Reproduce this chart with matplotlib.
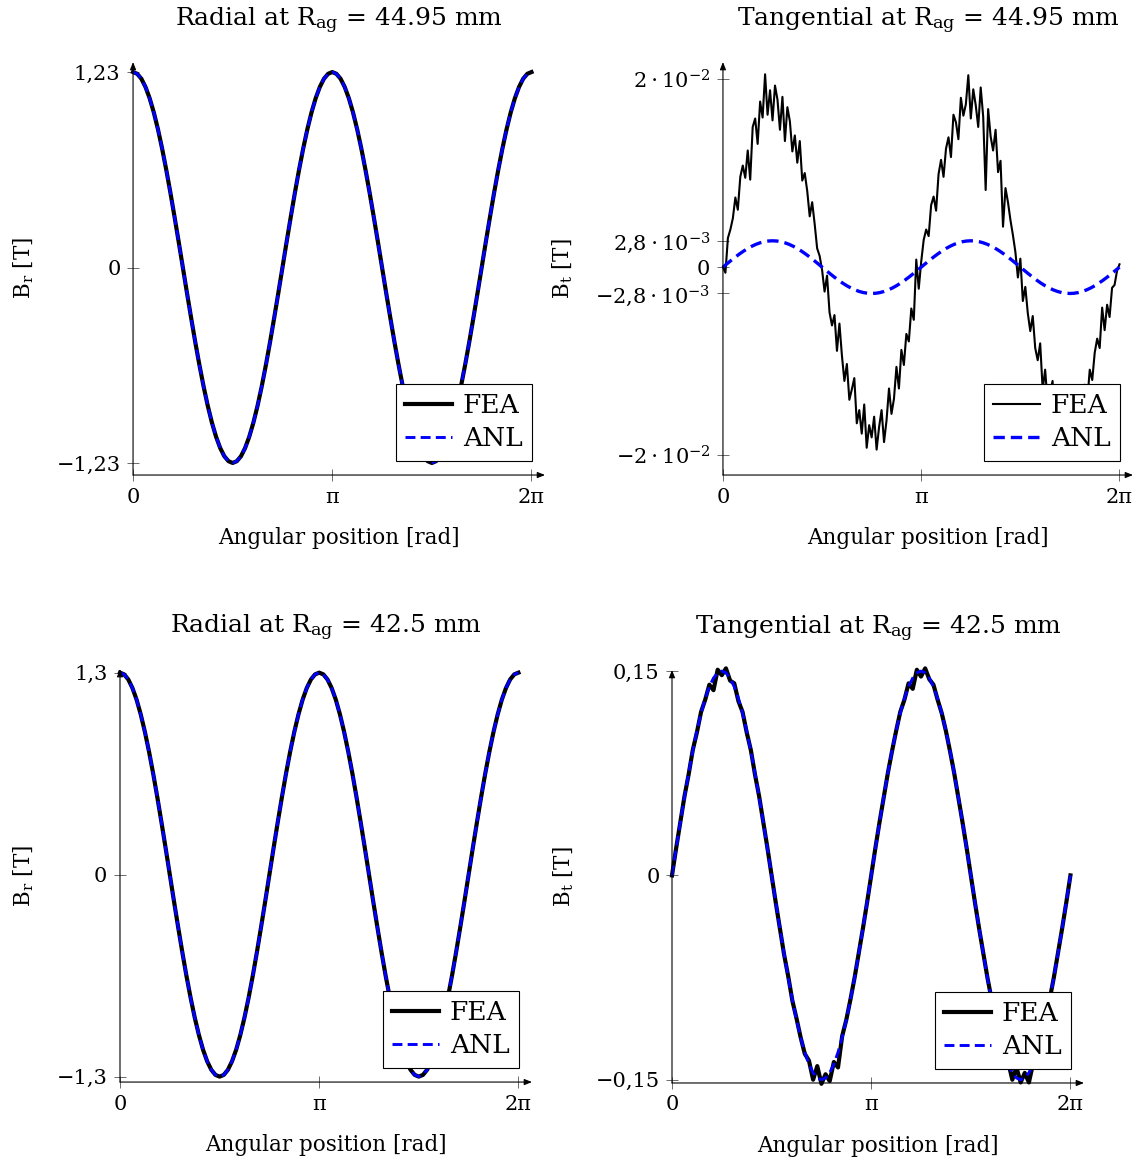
import numpy as np
import matplotlib
matplotlib.use('Agg')
import matplotlib.pyplot as plt

plt.rcParams['font.family'] = 'DejaVu Serif'
plt.rcParams['mathtext.fontset'] = 'dejavuserif'

# sample grids along the angular position
theta = np.linspace(0, 2 * np.pi, 97)
theta_fea = np.linspace(0, 2 * np.pi, 161)

# radial at R_ag = 44.95 mm [T] (FEA and ANL coincide)
br_outer = [1.230, 1.219, 1.188, 1.136, 1.065, 0.976, 0.870, 0.749, 0.615, 0.471, 0.318, 0.161, 0.0,
            -0.161, -0.318, -0.471, -0.615, -0.749, -0.870, -0.976, -1.065, -1.136, -1.188, -1.219, -1.230,
            -1.219, -1.188, -1.136, -1.065, -0.976, -0.870, -0.749, -0.615, -0.471, -0.318, -0.161, 0.0,
            0.161, 0.318, 0.471, 0.615, 0.749, 0.870, 0.976, 1.065, 1.136, 1.188, 1.219, 1.230,
            1.219, 1.188, 1.136, 1.065, 0.976, 0.870, 0.749, 0.615, 0.471, 0.318, 0.161, 0.0,
            -0.161, -0.318, -0.471, -0.615, -0.749, -0.870, -0.976, -1.065, -1.136, -1.188, -1.219, -1.230,
            -1.219, -1.188, -1.136, -1.065, -0.976, -0.870, -0.749, -0.615, -0.471, -0.318, -0.161, 0.0,
            0.161, 0.318, 0.471, 0.615, 0.749, 0.870, 0.976, 1.065, 1.136, 1.188, 1.219, 1.230]

# tangential at R_ag = 44.95 mm [mT]
bt_outer_anl = [0.0, 0.365, 0.725, 1.072, 1.400, 1.705, 1.980, 2.222, 2.425, 2.587, 2.705, 2.776, 2.800,
                2.776, 2.705, 2.587, 2.425, 2.222, 1.980, 1.705, 1.400, 1.072, 0.725, 0.365, 0.0,
                -0.365, -0.725, -1.072, -1.400, -1.705, -1.980, -2.222, -2.425, -2.587, -2.705, -2.776, -2.800,
                -2.776, -2.705, -2.587, -2.425, -2.222, -1.980, -1.705, -1.400, -1.072, -0.725, -0.365, 0.0,
                0.365, 0.725, 1.072, 1.400, 1.705, 1.980, 2.222, 2.425, 2.587, 2.705, 2.776, 2.800,
                2.776, 2.705, 2.587, 2.425, 2.222, 1.980, 1.705, 1.400, 1.072, 0.725, 0.365, 0.0,
                -0.365, -0.725, -1.072, -1.400, -1.705, -1.980, -2.222, -2.425, -2.587, -2.705, -2.776, -2.800,
                -2.776, -2.705, -2.587, -2.425, -2.222, -1.980, -1.705, -1.400, -1.072, -0.725, -0.365, 0.0]
bt_outer_fea = [0.0, -0.6, 3.1, 4.0, 5.2, 7.4, 6.1, 9.6, 10.8, 9.5,
                12.4, 9.3, 14.9, 15.8, 13.1, 17.6, 15.9, 20.5, 16.2, 18.8,
                15.6, 19.3, 17.8, 14.6, 18.1, 13.4, 17.0, 15.5, 12.3, 14.0,
                11.1, 13.4, 9.2, 10.0, 8.1, 5.4, 6.9, 4.6, 2.0, 1.2,
                -0.3, -2.6, -0.9, -4.8, -6.2, -5.1, -8.9, -6.0, -9.4, -12.1,
                -10.3, -14.1, -13.0, -11.8, -16.6, -15.2, -17.7, -14.6, -19.2, -16.8,
                -18.1, -15.9, -19.4, -17.0, -15.2, -18.6, -16.3, -12.9, -15.6, -14.0,
                -10.6, -12.9, -8.8, -10.4, -7.1, -7.9, -4.4, -5.6, 0.8, -2.3,
                0.6, 2.9, 4.0, 3.3, 6.6, 7.5, 6.0, 9.9, 11.4, 9.6,
                12.6, 13.8, 11.7, 16.2, 15.4, 13.6, 18.0, 16.1, 17.3, 20.4,
                15.8, 18.9, 17.2, 14.9, 19.1, 16.0, 8.2, 16.8, 13.9, 12.4,
                14.6, 10.1, 11.3, 4.3, 8.4, 6.9, 5.0, 3.4, 1.6, -1.1,
                0.9, -3.6, -2.1, -4.9, -6.8, -5.2, -8.6, -9.9, -8.1, -13.0,
                -10.9, -14.4, -13.3, -12.1, -16.9, -14.0, -17.6, -18.3, -15.2, -18.9,
                -16.4, -17.8, -14.1, -18.0, -13.6, -16.5, -12.5, -14.2, -10.9, -12.0,
                -9.1, -7.6, -8.6, -4.3, -6.7, -4.0, -5.3, -2.2, -1.9, -0.4,
                0.3]

# radial at R_ag = 42.5 mm [T]
br_inner = [1.300, 1.289, 1.256, 1.201, 1.126, 1.031, 0.919, 0.791, 0.650, 0.497, 0.336, 0.170, 0.0,
            -0.170, -0.336, -0.497, -0.650, -0.791, -0.919, -1.031, -1.126, -1.201, -1.256, -1.289, -1.300,
            -1.289, -1.256, -1.201, -1.126, -1.031, -0.919, -0.791, -0.650, -0.497, -0.336, -0.170, 0.0,
            0.170, 0.336, 0.497, 0.650, 0.791, 0.919, 1.031, 1.126, 1.201, 1.256, 1.289, 1.300,
            1.289, 1.256, 1.201, 1.126, 1.031, 0.919, 0.791, 0.650, 0.497, 0.336, 0.170, 0.0,
            -0.170, -0.336, -0.497, -0.650, -0.791, -0.919, -1.031, -1.126, -1.201, -1.256, -1.289, -1.300,
            -1.289, -1.256, -1.201, -1.126, -1.031, -0.919, -0.791, -0.650, -0.497, -0.336, -0.170, 0.0,
            0.170, 0.336, 0.497, 0.650, 0.791, 0.919, 1.031, 1.126, 1.201, 1.256, 1.289, 1.300]

# tangential at R_ag = 42.5 mm [T]
bt_inner_anl = [0.0, 0.0196, 0.0388, 0.0574, 0.0750, 0.0913, 0.1061, 0.1190, 0.1299, 0.1386, 0.1449, 0.1487, 0.1500,
                0.1487, 0.1449, 0.1386, 0.1299, 0.1190, 0.1061, 0.0913, 0.0750, 0.0574, 0.0388, 0.0196, 0.0,
                -0.0196, -0.0388, -0.0574, -0.0750, -0.0913, -0.1061, -0.1190, -0.1299, -0.1386, -0.1449, -0.1487, -0.1500,
                -0.1487, -0.1449, -0.1386, -0.1299, -0.1190, -0.1061, -0.0913, -0.0750, -0.0574, -0.0388, -0.0196, 0.0,
                0.0196, 0.0388, 0.0574, 0.0750, 0.0913, 0.1061, 0.1190, 0.1299, 0.1386, 0.1449, 0.1487, 0.1500,
                0.1487, 0.1449, 0.1386, 0.1299, 0.1190, 0.1061, 0.0913, 0.0750, 0.0574, 0.0388, 0.0196, 0.0,
                -0.0196, -0.0388, -0.0574, -0.0750, -0.0913, -0.1061, -0.1190, -0.1299, -0.1386, -0.1449, -0.1487, -0.1500,
                -0.1487, -0.1449, -0.1386, -0.1299, -0.1190, -0.1061, -0.0913, -0.0750, -0.0574, -0.0388, -0.0196, 0.0]
bt_inner_fea = [0.0, 0.020, 0.039, 0.058, 0.074, 0.092, 0.105, 0.120, 0.129, 0.140, 0.136, 0.151, 0.147,
                0.152, 0.143, 0.141, 0.128, 0.120, 0.105, 0.092, 0.074, 0.058, 0.039, 0.020, 0.0,
                -0.020, -0.039, -0.058, -0.074, -0.092, -0.105, -0.119, -0.131, -0.136, -0.150, -0.140, -0.153,
                -0.146, -0.151, -0.137, -0.141, -0.118, -0.106, -0.091, -0.075, -0.057, -0.039, -0.020, 0.0,
                0.020, 0.039, 0.057, 0.075, 0.091, 0.106, 0.120, 0.129, 0.141, 0.137, 0.151, 0.146,
                0.152, 0.144, 0.140, 0.129, 0.119, 0.106, 0.091, 0.075, 0.057, 0.039, 0.020, 0.0,
                -0.020, -0.039, -0.057, -0.075, -0.091, -0.106, -0.119, -0.130, -0.137, -0.150, -0.141, -0.152,
                -0.145, -0.152, -0.138, -0.140, -0.119, -0.106, -0.091, -0.075, -0.057, -0.039, -0.020, 0.0]

x_ticks = [0, np.pi, 2 * np.pi]
x_ticklabels = ['0', 'π', '2π']
anl_blue = '#0000ff'
axis_grey = '#555555'


def style_axes(ax, ylim, yticks, yticklabels, ylabel, title, ylabel_x):
    ax.set_xlim(0, 2 * np.pi * 1.034)
    ax.set_ylim(*ylim)
    for side in ['top', 'right', 'left', 'bottom']:
        ax.spines[side].set_visible(False)
    arrow = dict(arrowstyle='-|>,head_length=0.45,head_width=0.18', color='black',
                 lw=0.8, shrinkA=0, shrinkB=0)
    ax.annotate('', xy=(1, 0), xytext=(0, 0), xycoords='axes fraction', arrowprops=arrow)
    ax.annotate('', xy=(0, 1), xytext=(0, 0), xycoords='axes fraction', arrowprops=arrow)
    ax.set_xticks(x_ticks)
    ax.set_xticklabels(x_ticklabels)
    ax.set_yticks(yticks)
    ax.set_yticklabels(yticklabels)
    ax.tick_params(direction='inout', length=8, width=0.6, color=axis_grey, labelsize=15, pad=5)
    ax.set_xlabel('Angular position [rad]', fontsize=15.5)
    ax.xaxis.set_label_coords(0.5, -0.125)
    ax.set_ylabel(ylabel, fontsize=15.5)
    ax.yaxis.set_label_coords(ylabel_x, 0.5)
    ax.set_title(title, fontsize=18, pad=26)
    leg = ax.legend(loc='lower right', bbox_to_anchor=(0.968, 0.035), borderaxespad=0, fancybox=False,
                    edgecolor='black', framealpha=1, fontsize=19, handlelength=1.8,
                    borderpad=0.35, labelspacing=0.3, handletextpad=0.4)
    leg.get_frame().set_linewidth(0.8)


fig = plt.figure(figsize=(11.45, 11.62), dpi=100)
ax_tl = fig.add_axes([0.1162, 0.5912, 0.3598, 0.3554])
ax_tr = fig.add_axes([0.6314, 0.5912, 0.3581, 0.3554])
ax_bl = fig.add_axes([0.1048, 0.0688, 0.3598, 0.3554])
ax_br = fig.add_axes([0.5869, 0.0680, 0.3598, 0.3554])

dash = (3.4, 1.8)

ax_tl.plot(theta, br_outer, color='black', lw=3.0, label='FEA', clip_on=False)
ax_tl.plot(theta, br_outer, color=anl_blue, lw=2.1, ls='--', dashes=dash, label='ANL', clip_on=False)
style_axes(ax_tl, (-1.306, 1.293), [-1.23, 0, 1.23], ['−1,23', '0', '1,23'],
           r'$\mathregular{B_r}$ [T]', r'Radial at $\mathregular{R_{ag}}$ = 44.95 mm', -0.235)

ax_tr.plot(theta_fea, np.array(bt_outer_fea) * 1e-3, color='black', lw=1.5, label='FEA', clip_on=False)
ax_tr.plot(theta, np.array(bt_outer_anl) * 1e-3, color=anl_blue, lw=2.4, ls='--', dashes=dash,
           label='ANL', clip_on=False)
style_axes(ax_tr, (-0.0221, 0.0218), [-0.02, -0.0028, 0, 0.0028, 0.02],
           [r'$-2\cdot10^{-2}$', r'$-2{,}8\cdot10^{-3}$', '0', r'$2{,}8\cdot10^{-3}$', r'$2\cdot10^{-2}$'],
           r'$\mathregular{B_t}$ [T]', r'Tangential at $\mathregular{R_{ag}}$ = 44.95 mm', -0.36)

ax_bl.plot(theta, br_inner, color='black', lw=3.0, label='FEA', clip_on=False)
ax_bl.plot(theta, br_inner, color=anl_blue, lw=2.1, ls='--', dashes=dash, label='ANL', clip_on=False)
style_axes(ax_bl, (-1.335, 1.323), [-1.3, 0, 1.3], ['−1,3', '0', '1,3'],
           r'$\mathregular{B_r}$ [T]', r'Radial at $\mathregular{R_{ag}}$ = 42.5 mm', -0.205)

ax_br.plot(theta, bt_inner_fea, color='black', lw=3.0, label='FEA', clip_on=False)
ax_br.plot(theta, bt_inner_anl, color=anl_blue, lw=2.1, ls='--', dashes=dash, label='ANL', clip_on=False)
style_axes(ax_br, (-0.1524, 0.1508), [-0.15, 0, 0.15], ['−0,15', '0', '0,15'],
           r'$\mathregular{B_t}$ [T]', r'Tangential at $\mathregular{R_{ag}}$ = 42.5 mm', -0.232)

fig.savefig('out.png', dpi=100)
